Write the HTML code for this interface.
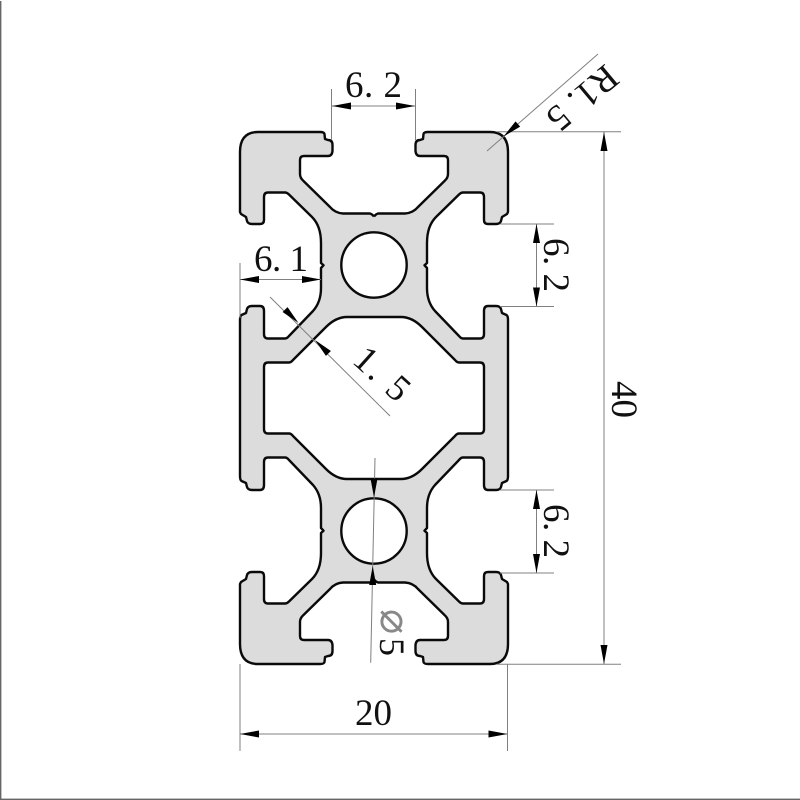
<!DOCTYPE html>
<html>
<head>
<meta charset="utf-8">
<title>Aluminium profile 20x40</title>
<style>
html,body{margin:0;padding:0;background:#fff}
svg{display:block}
text{font-family:"Liberation Serif","Noto Serif CJK SC",serif;font-size:37px;fill:#111}
</style>
</head>
<body>
<svg xmlns="http://www.w3.org/2000/svg" width="800" height="800" viewBox="0 0 800 800">
<defs>
<path id="qf" fill="#dcdcdc" d="M374,216.5 Q372,214 370,213.5 L343,213.5 Q335,213 330,207 L303.5,181 Q300,178 300,174 L300,160 Q300,156 304,156 L328,156 Q332,156 332.5,151 L332.5,145 Q332.5,140 328,140 L325,139 L324.5,134 Q324,132 320,132 L258,132 Q240,132 240,152 L240,212 L241,214 L246,217 L247,221 Q248,224 252,224 L260,224 Q264,224 264,220 L264,197 Q264,192.5 268,192.5 L285,192.5 Q287,192.5 289,194.5 L312,217 Q321,226 321,243 L321,263 L323.5,265.3 L321,268 L321,288 Q321,302 313,311 L289,336 Q287,338.5 285,338.5 L268,338.5 Q264,338.5 264,334 L264,311 Q264,306 260,306 L252,306 Q248,306 247,309 L246,313 L241.5,315 Q240,316 240,320 L240,398 L264,398 L264,367 Q264,362.5 268,362.5 L289,362.5 Q291,362.5 293,360 L326,327 Q336,317 347,317 L374,317 Z"/>
<path id="qs" fill="none" stroke="#0a0a0a" stroke-width="2.4" stroke-linejoin="round" d="M374,216.5 Q372,214 370,213.5 L343,213.5 Q335,213 330,207 L303.5,181 Q300,178 300,174 L300,160 Q300,156 304,156 L328,156 Q332,156 332.5,151 L332.5,145 Q332.5,140 328,140 L325,139 L324.5,134 Q324,132 320,132 L258,132 Q240,132 240,152 L240,212 L241,214 L246,217 L247,221 Q248,224 252,224 L260,224 Q264,224 264,220 L264,197 Q264,192.5 268,192.5 L285,192.5 Q287,192.5 289,194.5 L312,217 Q321,226 321,243 L321,263 L323.5,265.3 L321,268 L321,288 Q321,302 313,311 L289,336 Q287,338.5 285,338.5 L268,338.5 Q264,338.5 264,334 L264,311 Q264,306 260,306 L252,306 Q248,306 247,309 L246,313 L241.5,315 Q240,316 240,320 L240,398 M264,398 L264,367 Q264,362.5 268,362.5 L289,362.5 Q291,362.5 293,360 L326,327 Q336,317 347,317 L374,317"/>
<g id="half">
<use href="#qf"/>
<use href="#qf" transform="matrix(-1 0 0 1 748 0)"/>
</g>
<g id="halfs">
<use href="#qs"/>
<use href="#qs" transform="matrix(-1 0 0 1 748 0)"/>
</g>
<polygon id="a" points="0,0 19,-3.5 19,3.5" fill="#000"/>
</defs>

<!-- page border -->
<rect x="0" y="1" width="1.4" height="799" fill="#666"/>
<rect x="0" y="798.6" width="800" height="1.4" fill="#666"/>

<!-- profile -->
<use href="#half"/>
<use href="#half" transform="matrix(1 0 0 -1 0 796)"/>
<use href="#halfs"/>
<use href="#halfs" transform="matrix(1 0 0 -1 0 796)"/>
<circle cx="374" cy="265" r="32.7" fill="#fff" stroke="#0a0a0a" stroke-width="2.4"/>
<circle cx="374" cy="531" r="32.7" fill="#fff" stroke="#0a0a0a" stroke-width="2.4"/>

<!-- dimension lines -->
<g stroke="#808080" stroke-width="1" fill="none">
<path d="M331.5,89V140M415.5,89V140M332,106H415"/>
<path d="M598,54L487,151"/>
<path d="M497,131.7H621M497,664.3H621M604,132V664"/>
<path d="M500,224H554M500,306.5H554M536.5,224V306.5"/>
<path d="M500,490H554M500,573H554M536.5,490V573"/>
<path d="M240,263V318M240,279.5H321"/>
<path d="M270,297L390,416"/>
<path d="M375,458L370.7,662.7"/>
<path d="M240,664V751M507.5,664V751M240,734H507.5"/>
</g>

<!-- arrowheads -->
<use href="#a" transform="translate(332,106)"/>
<use href="#a" transform="translate(415,106) rotate(180)"/>
<use href="#a" transform="translate(503.5,136.5) rotate(-41)"/>
<use href="#a" transform="translate(604,132) rotate(90)"/>
<use href="#a" transform="translate(604,664) rotate(-90)"/>
<use href="#a" transform="translate(536.5,224) rotate(90)"/>
<use href="#a" transform="translate(536.5,306.5) rotate(-90)"/>
<use href="#a" transform="translate(536.5,490) rotate(90)"/>
<use href="#a" transform="translate(536.5,573) rotate(-90)"/>
<use href="#a" transform="translate(240,279.5)"/>
<use href="#a" transform="translate(321,279.5) rotate(180)"/>
<use href="#a" transform="translate(298.5,323) rotate(-135)"/>
<use href="#a" transform="translate(315,340) rotate(45)"/>
<use href="#a" transform="translate(374,497.5) rotate(-90)"/>
<use href="#a" transform="translate(372.7,566) rotate(90)"/>
<use href="#a" transform="translate(240,734)"/>
<use href="#a" transform="translate(507.5,734) rotate(180)"/>

<!-- labels -->
<text x="345" y="97" textLength="57" lengthAdjust="spacing">6. 2</text>
<text x="254" y="271" textLength="54" lengthAdjust="spacing">6. 1</text>
<text x="355" y="725">20</text>
<text transform="translate(612,381) rotate(90)">40</text>
<text transform="translate(544,238) rotate(90)" textLength="54" lengthAdjust="spacing">6. 2</text>
<text transform="translate(544,504) rotate(90)" textLength="54" lengthAdjust="spacing">6. 2</text>
<text transform="translate(605.5,63) rotate(140)">R1. 5</text>
<text transform="translate(351,362) rotate(42)" textLength="62" lengthAdjust="spacing">1. 5</text>
<text transform="translate(380,638) rotate(90)" style="font-size:36px">5</text>
<text transform="translate(381,609) rotate(90)" style="font-family:'DejaVu Sans',sans-serif;font-size:42px;fill:#888">⌀</text>
</svg>
</body>
</html>
